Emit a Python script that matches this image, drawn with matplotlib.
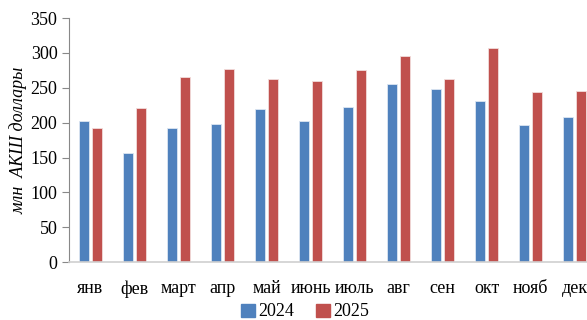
import numpy as np
import matplotlib.pyplot as plt
from matplotlib.patches import Patch

# monthly values, mln USD
months = ['янв', 'фев', 'март', 'апр', 'май', 'июнь', 'июль', 'авг', 'сен', 'окт', 'нояб', 'дек']
vals_2024 = [202, 156, 192, 198, 220, 203, 222, 256, 248, 231, 196, 208]
vals_2025 = [192, 221, 265, 277, 262, 260, 275, 296, 262, 307, 244, 245]

blue = '#4F81BD'
red = '#C0504D'

plt.rcParams['font.family'] = ['Liberation Serif', 'DejaVu Serif']

fig = plt.figure(figsize=(5.87, 3.2), dpi=100)
# axes run past the right edge, like the cropped original
ax = fig.add_axes([0.1167, 0.181, 0.8995, 0.7625])

x = np.arange(len(months))
w = 0.23
ax.bar(x - 0.145, vals_2024, w, color=blue, edgecolor='#dce6f2', linewidth=0.6, label='2024')
ax.bar(x + 0.145, vals_2025, w, color=red, edgecolor='#f2dcdb', linewidth=0.6, label='2025')

ax.set_xlim(-0.5, len(months) - 0.5)
ax.set_ylim(0, 350)
ax.set_yticks(range(0, 351, 50))
ax.set_xticks(x)
ax.set_xticklabels(months, fontsize=13)
ax.tick_params(axis='y', labelsize=13, length=5, color='#888888', pad=3)
ax.tick_params(axis='x', length=0, pad=13)

for s in ['top', 'right']:
    ax.spines[s].set_visible(False)
ax.spines['left'].set_color('#888888')
ax.spines['bottom'].set_color('#d0d0d0')
ax.spines['bottom'].set_linewidth(1.2)

ax.set_ylabel('млн  АКШ доллары', fontsize=13, style='italic', labelpad=2)

handles = [Patch(color=blue, label='2024'), Patch(color=red, label='2025')]
fig.legend(handles=handles, loc='center', bbox_to_anchor=(0.52, 0.025), ncol=2,
           frameon=False, fontsize=13, handlelength=0.75, handleheight=0.75,
           handletextpad=0.2, columnspacing=1.2)

plt.savefig('out.png', dpi=100)
